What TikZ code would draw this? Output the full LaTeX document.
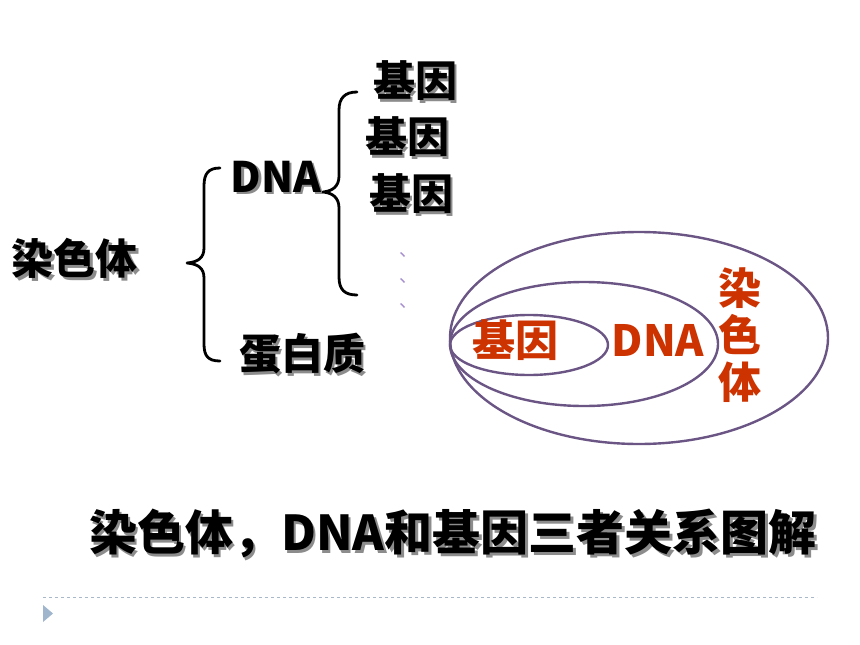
\documentclass[tikz,border=0pt]{standalone}
\usepackage{fontspec}
\newfontfamily\cjk{Noto Sans CJK SC}
\newfontfamily\cjkh{Noto Sans CJK SC Black}
\definecolor{redtxt}{HTML}{CC3300}
\definecolor{ellcol}{HTML}{6B5585}
\definecolor{dotcol}{HTML}{A58FCF}
\definecolor{dashcol}{HTML}{A8B8C8}
\definecolor{tricol}{HTML}{9FB6CD}
\newcommand\shtxt[1]{\rlap{\raisebox{-2.5pt}{\hspace{2.5pt}\textcolor{black!45}{#1}}}#1}
\begin{document}
\begin{tikzpicture}[x=1pt,y=-1pt,
  blk/.style={inner sep=0pt,font=\cjkh\fontsize{42}{46}\selectfont,text=black},
  redlbl/.style={inner sep=0pt,font=\cjk\bfseries\fontsize{43}{47}\selectfont,text=redtxt},
  bracepath/.style={line width=2.8pt,line cap=round,line join=round},
  ell/.style={draw=ellcol,line width=2.4pt},
  dotmark/.style={inner sep=0pt,font=\cjk\fontsize{18}{18}\selectfont,text=dotcol}]
\useasboundingbox[fill=white] (0,0) rectangle (860,645);
% left labels with shadow
\node[blk] (n0) at (75,260) {\shtxt{染色体}};
\node[blk] (n1) at (276,178) {\shtxt{DNA}};
\node[blk] (n2) at (302,355) {\shtxt{蛋白质}};
\node[blk] (n3) at (415,82) {\shtxt{基因}};
\node[blk] (n4) at (407,138) {\shtxt{基因}};
\node[blk] (n5) at (411,195) {\shtxt{基因}};
% small marks
\node[dotmark,anchor=base west] (m1) at (399,256) {、};
\node[dotmark,anchor=base west] (m2) at (399,282) {、};
\node[dotmark,anchor=base west] (m3) at (399,307) {、};
% braces
\draw[bracepath] (220,168) .. controls (208,168) and (204,174) .. (204,186) -- (204,248)
  .. controls (204,258) and (198,262) .. (187,263)
  .. controls (198,264) and (204,268) .. (204,278) -- (204,344)
  .. controls (204,356) and (208,361) .. (220,361);
\draw[bracepath] (357,92) .. controls (345,92) and (339,98) .. (339,110) -- (339,176)
  .. controls (339,186) and (333,191) .. (323,192)
  .. controls (333,193) and (339,198) .. (339,208) -- (339,277)
  .. controls (339,290) and (345,295) .. (357,295);
% ellipses
\draw[ell] (639,338) ellipse [x radius=189pt, y radius=106pt];
\draw[ell] (584,344) ellipse [x radius=134pt, y radius=62pt];
\draw[ell] (529,345) ellipse [x radius=79pt, y radius=30pt];
% red labels
\node[redlbl] (r1) at (515,340) {基因};
\node[redlbl] (r2) at (658,340) {DNA};
\node[redlbl,align=center] (r3) at (740,335) {染\\色\\体};
% title
\node[inner sep=0pt,font=\cjkh\fontsize{48}{52}\selectfont] (t) at (453,535) {\shtxt{染色体，DNA和基因三者关系图解}};
% footer
\coordinate (dl) at (43,597);
\coordinate (dr) at (817,597);
\draw[dashcol,line width=1pt,dash pattern=on 3pt off 3pt] (dl) -- (dr);
\fill[tricol] (43,605) -- (53,613.5) -- (43,622) -- cycle;
\end{tikzpicture}
\end{document}
